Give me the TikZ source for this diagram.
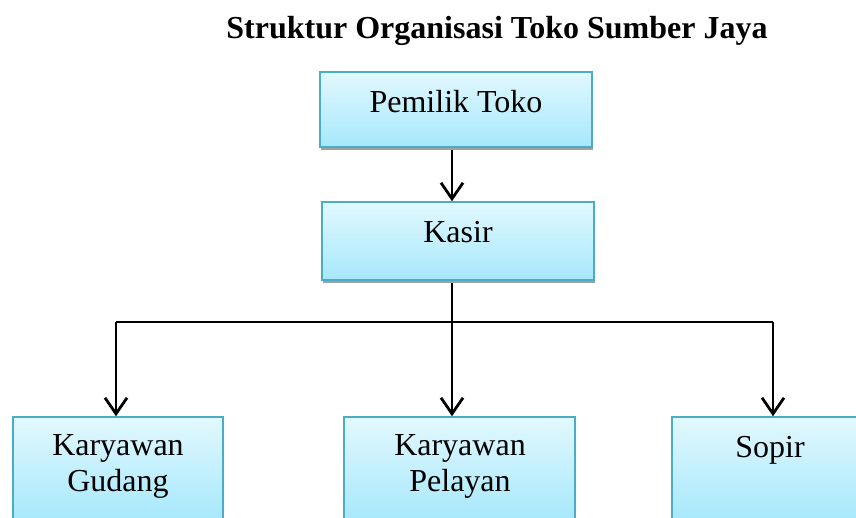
\documentclass[tikz,border=0pt]{standalone}
\usepackage{fontspec}
\setmainfont{Liberation Serif}
\usetikzlibrary{arrows.meta}
\definecolor{boxtop}{HTML}{E2F8FF}
\definecolor{boxbot}{HTML}{A6E8FB}
\definecolor{boxline}{HTML}{4BACC6}
\definecolor{shadowgray}{HTML}{A0A0A0}
\tikzset{
  orgbox/.style={rectangle, draw=boxline, line width=1.5pt, top color=boxtop, bottom color=boxbot, inner sep=0pt},
  shadowbox/.style={rectangle, fill=shadowgray, draw=none, inner sep=0pt},
  lbl/.style={font=\fontsize{32}{36}\selectfont, anchor=base, inner sep=0pt, align=center},
  conn/.style={line width=2.8pt, black},
  arr/.style={conn, -{Straight Barb[length=16pt,width=22pt,line width=2.8pt]}}
}
\begin{document}
\begin{tikzpicture}[x=1pt,y=-1pt]
\clip (0,0) rectangle (856,517);
\fill[white] (0,0) rectangle (856,517);
% title
\node[lbl, font=\fontsize{32}{36}\selectfont\bfseries] (title) at (497,38) {Struktur Organisasi Toko Sumber Jaya};
% shadows
\node[shadowbox, minimum width=272pt, minimum height=75pt] (pshadow) at (457,112.5) {};
\node[shadowbox, minimum width=272pt, minimum height=78pt] (kshadow) at (459,244) {};
% boxes
\node[orgbox, minimum width=272pt, minimum height=75pt] (pemilik) at (456,109.5) {};
\node[orgbox, minimum width=272pt, minimum height=78pt] (kasir) at (458,241) {};
\node[orgbox, minimum width=210pt, minimum height=104pt] (gudang) at (118,469) {};
\node[orgbox, minimum width=231pt, minimum height=104pt] (pelayan) at (459.5,469) {};
\node[orgbox, minimum width=196pt, minimum height=104pt] (sopir) at (770,469) {};
% texts
\node[lbl] (tpemilik) at (456,112) {Pemilik Toko};
\node[lbl] (tkasir) at (458,242) {Kasir};
\node[lbl] (tgudang1) at (118,455) {Karyawan};
\node[lbl] (tgudang2) at (118,491) {Gudang};
\node[lbl] (tpelayan1) at (460,455) {Karyawan};
\node[lbl] (tpelayan2) at (460,491) {Pelayan};
\node[lbl] (tsopir) at (770,457) {Sopir};
% connectors
\coordinate (spine) at (452,322);
\coordinate (leftc) at (116,322);
\coordinate (rightc) at (773,322);
\draw[arr] (pshadow.south -| spine) -- (kasir.north -| spine);
\draw[conn] (kshadow.south -| spine) -- (spine);
\draw[conn] (leftc) -- (rightc);
\draw[arr] (leftc) -- (gudang.north -| leftc);
\draw[arr] (spine) -- (pelayan.north -| spine);
\draw[arr] (rightc) -- (sopir.north -| rightc);
\end{tikzpicture}
\end{document}
